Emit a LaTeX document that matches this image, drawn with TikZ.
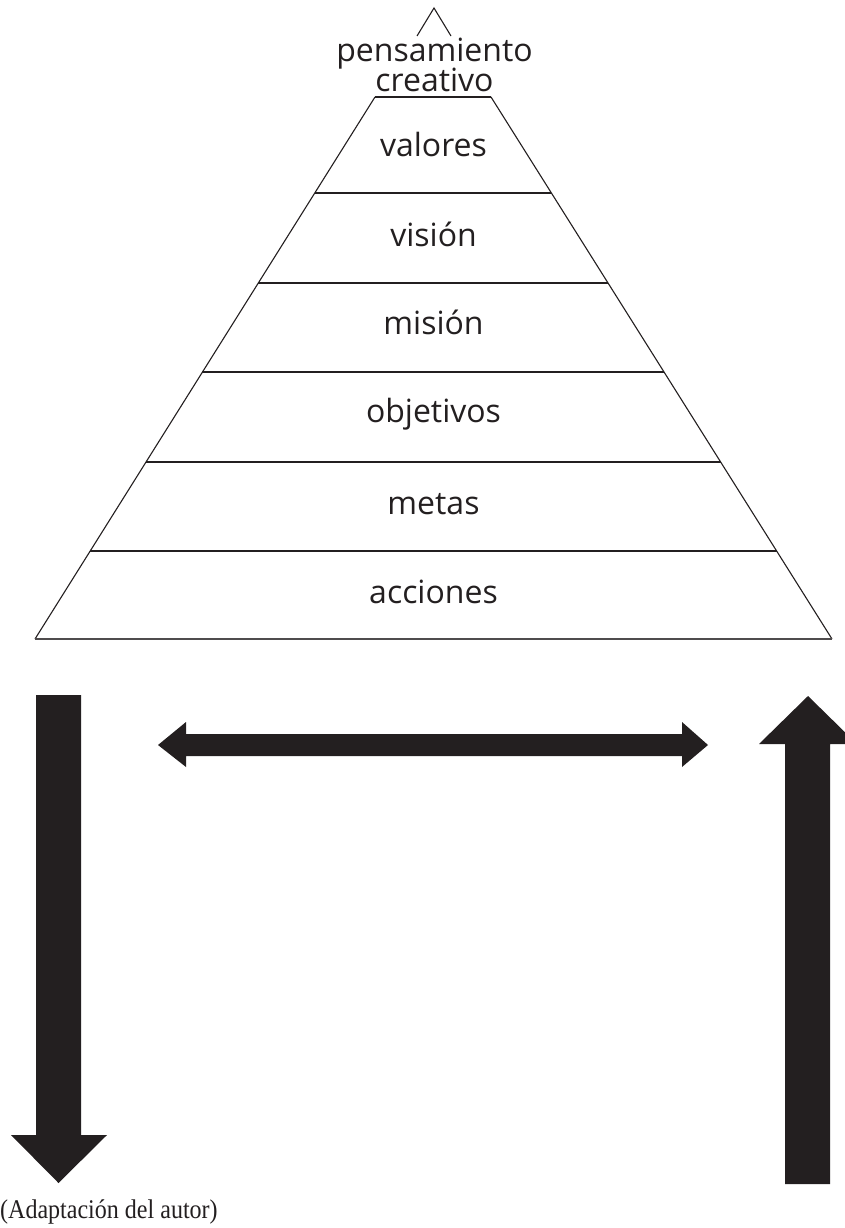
\documentclass[tikz,border=0pt]{standalone}
\usepackage{fontspec}
\usetikzlibrary{calc}
\setmainfont{Open Sans}
\newfontfamily\capfont{Liberation Serif}
\definecolor{ink}{HTML}{231F20}
\begin{document}
\begin{tikzpicture}[x=1pt,y=-1pt,
  lvl/.style={anchor=base,inner sep=0pt,font=\fontsize{32}{32}\selectfont,text=ink},
  edge/.style={draw=ink,line width=1.1pt},
  bigarrow/.style={fill=ink,draw=none}]
\useasboundingbox (0,0) rectangle (845,1228);
% apex
\coordinate (apL) at (417,36);
\coordinate (apT) at (434,8);
\coordinate (apR) at (451,36);
\draw[edge] (apL) -- (apT) -- (apR);
% pyramid
\coordinate (tl) at (375,97);
\coordinate (tr) at (491,97);
\coordinate (bl) at (35,639);
\coordinate (br) at (832,639);
\draw[edge] (tl) -- (bl);
\draw[edge] (tr) -- (br);
\draw[edge] (tl) -- (tr);
\draw[draw=ink!80,line width=2pt] (bl) -- (br);
\foreach \yy in {193,283,372,462,551}{
  \draw[edge] ($(tl)!{(\yy-97)/542}!(bl)$) -- ($(tr)!{(\yy-97)/542}!(br)$);
}
\node[lvl] (pens) at (434.5,62) {pensamiento};
\node[lvl] (crea) at (434.5,92) {creativo};
\node[lvl] (val) at (433.5,157) {valores};
\node[lvl] (vis) at (433.5,246) {visión};
\node[lvl] (mis) at (433.5,334) {misión};
\node[lvl] (obj) at (433.5,422) {objetivos};
\node[lvl] (met) at (433.5,514) {metas};
\node[lvl] (acc) at (433.5,603) {acciones};
% down arrow
\fill[bigarrow] (36,695) -- (81,695) -- (81,1135) -- (107,1135) -- (58.5,1183)
  -- (11,1135) -- (36,1135) -- cycle;
% up arrow
\fill[bigarrow] (808,696) -- (857,744) -- (830,744) -- (830,1184) -- (785,1184)
  -- (785,744) -- (759,744) -- cycle;
% double arrow
\fill[bigarrow] (158,745) -- (186,722) -- (186,734) -- (682,734) -- (682,722)
  -- (708,745) -- (682,767) -- (682,756) -- (186,756) -- (186,767) -- cycle;
% caption
\node[anchor=base west,inner sep=0pt,text=ink,font=\capfont\fontsize{27}{27}\selectfont,xscale=0.89] (cap) at (0,1218) {(Adaptación del autor)};
\end{tikzpicture}
\end{document}
